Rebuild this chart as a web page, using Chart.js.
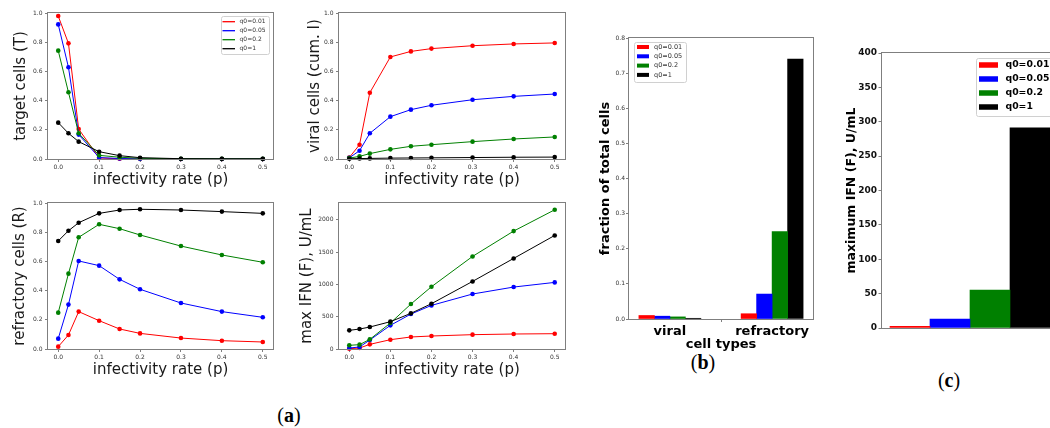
<!DOCTYPE html>
<html><head><meta charset="utf-8">
<script src="https://cdn.jsdelivr.net/npm/chart.js@4.4.0/dist/chart.umd.min.js"></script>
<style>
html,body{margin:0;padding:0;background:#fff;width:1050px;height:428px;overflow:hidden;position:relative}
canvas{position:absolute}
.lbl{position:absolute;font-family:'Liberation Serif','DejaVu Serif',serif;font-size:20px;color:#000;transform:translate(-50%,-50%);white-space:nowrap}
</style></head><body>
<div class="lbl" style="left:289px;top:415px">(<b>a</b>)</div>
<div class="lbl" style="left:703px;top:362px">(<b>b</b>)</div>
<div class="lbl" style="left:949px;top:380px">(<b>c</b>)</div>
<script>
// ---------- data ----------
const pValues = [0, 0.025, 0.05, 0.1, 0.15, 0.2, 0.3, 0.4, 0.5];
const pTicks = [0, 0.1, 0.2, 0.3, 0.4, 0.5];
const q0Labels = ['q0=0.01', 'q0=0.05', 'q0=0.2', 'q0=1'];
const q0Colors = ['#ff0000', '#0000ff', '#008000', '#000000'];

// target cells (T)
const target_q001 = [0.979, 0.792, 0.205, 0.007, 0.002, 0.001, 0.000, 0.000, 0.000];
const target_q005 = [0.922, 0.628, 0.167, 0.010, 0.003, 0.001, 0.000, 0.000, 0.000];
const target_q02  = [0.742, 0.457, 0.176, 0.025, 0.012, 0.005, 0.002, 0.001, 0.001];
const target_q1   = [0.249, 0.176, 0.119, 0.050, 0.023, 0.009, 0.002, 0.001, 0.001];

// viral cells (cum. I)
const viral_q001 = [0.010, 0.098, 0.454, 0.699, 0.737, 0.756, 0.776, 0.788, 0.795];
const viral_q005 = [0.008, 0.057, 0.176, 0.290, 0.338, 0.368, 0.406, 0.429, 0.445];
const viral_q02  = [0.006, 0.018, 0.037, 0.066, 0.087, 0.098, 0.119, 0.137, 0.151];
const viral_q1   = [0.002, 0.003, 0.004, 0.006, 0.007, 0.008, 0.010, 0.012, 0.013];

// refractory cells (R)
const refr_q001 = [0.016, 0.096, 0.256, 0.194, 0.137, 0.107, 0.075, 0.057, 0.048];
const refr_q005 = [0.071, 0.304, 0.603, 0.571, 0.477, 0.409, 0.315, 0.256, 0.217];
const refr_q02  = [0.249, 0.516, 0.765, 0.854, 0.824, 0.781, 0.705, 0.644, 0.594];
const refr_q1   = [0.740, 0.810, 0.865, 0.929, 0.952, 0.957, 0.952, 0.941, 0.929];

// max IFN (F), U/mL
const ifn_q001 = [5, 15, 72, 144, 186, 201, 222, 232, 237];
const ifn_q005 = [15, 31, 139, 366, 541, 675, 851, 959, 1031];
const ifn_q02  = [57, 67, 149, 402, 696, 964, 1433, 1825, 2155];
const ifn_q1   = [289, 309, 340, 423, 552, 701, 1046, 1402, 1758];

// (b) fraction of total cells
const cellTypes = ['viral', 'refractory'];
const frac_q001 = [0.010, 0.015];
const frac_q005 = [0.008, 0.071];
const frac_q02  = [0.006, 0.249];
const frac_q1   = [0.002, 0.740];

// (c) maximum IFN
const maxIFN = [2.5, 13, 55, 291];

// tick labels
const fracTicks = [0, 0.2, 0.4, 0.6, 0.8, 1.0];
const ifnTicks = [0, 500, 1000, 1500, 2000];
const barFracTicks = [0, 0.1, 0.2, 0.3, 0.4, 0.5, 0.6, 0.7, 0.8];
const barIfnTicks = [0, 50, 100, 150, 200, 250, 300, 350, 400];

// ---------- helpers ----------
Chart.defaults.font.family = "'DejaVu Sans', sans-serif";
const AXIS = '#7f7f7f';

const framePlugin = {
  id: 'frame',
  afterDatasetsDraw(chart) {
    const {ctx, chartArea: a} = chart;
    ctx.save();
    ctx.strokeStyle = AXIS; ctx.lineWidth = 1;
    const l = Math.round(a.left) - 0.5, t = Math.round(a.top) - 0.5;
    const r = Math.round(a.right) + 0.5, b = Math.round(a.bottom) + 0.5;
    ctx.strokeRect(l, t, r - l, b - t);
    ctx.restore();
  }
};

const legendPlugin = {
  id: 'boxLegend',
  afterDraw(chart, args, o) {
    if (!o || !o.show) return;
    const ctx = chart.ctx;
    ctx.save();
    ctx.beginPath();
    if (ctx.roundRect) ctx.roundRect(o.x + 0.5, o.y + 0.5, o.w, o.h, o.r || 2);
    else ctx.rect(o.x + 0.5, o.y + 0.5, o.w, o.h);
    ctx.fillStyle = 'rgba(255,255,255,0.85)';
    ctx.fill();
    ctx.strokeStyle = '#d0d0d0'; ctx.lineWidth = 1; ctx.stroke();
    chart.data.datasets.forEach((ds, i) => {
      const cy = o.rowY + i * o.rowH;
      if (o.kind === 'line') {
        ctx.strokeStyle = ds.borderColor; ctx.lineWidth = 1.3;
        ctx.beginPath(); ctx.moveTo(o.sx, cy); ctx.lineTo(o.sx + o.sw, cy); ctx.stroke();
      } else {
        ctx.fillStyle = ds.backgroundColor;
        ctx.fillRect(o.sx, cy - o.sh / 2, o.sw, o.sh);
      }
      ctx.fillStyle = o.color; ctx.font = o.font;
      ctx.textBaseline = 'middle'; ctx.textAlign = 'left';
      ctx.fillText(ds.label, o.tx, cy);
    });
    ctx.restore();
  }
};

function makeCanvas(left, top, w, h) {
  const c = document.createElement('canvas');
  c.width = w; c.height = h;
  c.style.left = left + 'px'; c.style.top = top + 'px';
  c.style.width = w + 'px'; c.style.height = h + 'px';
  document.body.appendChild(c);
  return c;
}

function lineDatasets(series) {
  return series.map((arr, i) => ({
    label: q0Labels[i],
    data: pValues.map((p, j) => ({x: p, y: arr[j]})),
    borderColor: q0Colors[i], backgroundColor: q0Colors[i],
    pointBackgroundColor: q0Colors[i], pointBorderWidth: 0,
    pointRadius: 2.3, borderWidth: 1, tension: 0, clip: false,
    order: 4 - i
  }));
}

function linePanel(left, top, yAxisW, series, yMax, yTicks, yFmt, yTitle, yTitleOffset, legend) {
  const c = makeCanvas(left, top, (left === 0 ? 283 : 285), 190);
  return new Chart(c, {
    type: 'line',
    data: {datasets: lineDatasets(series)},
    plugins: [framePlugin, legendPlugin],
    options: {
      responsive: false, animation: false, devicePixelRatio: 1,
      layout: {padding: {top: 13, right: 10, left: 0, bottom: 0}},
      plugins: {legend: {display: false}, tooltip: {enabled: false}, boxLegend: legend || {show: false}},
      scales: {
        x: {
          type: 'linear', min: -0.025, max: 0.525,
          afterBuildTicks: s => { s.ticks = pTicks.map(v => ({value: v})); },
          afterFit: s => { s.height = 31; },
          ticks: {font: {size: 6}, color: '#333', padding: 1.5, autoSkip: false, maxRotation: 0,
                  callback: v => Number(v).toFixed(1)},
          grid: {display: true, drawOnChartArea: false, drawTicks: true, tickLength: 3, color: AXIS},
          border: {display: false},
          title: {display: true, text: 'infectivity rate (p)', font: {size: 15, lineHeight: 1},
                  color: '#1a1a1a', padding: {top: 0, bottom: 2.5}}
        },
        y: {
          min: 0, max: yMax,
          afterBuildTicks: s => { s.ticks = yTicks.map(v => ({value: v})); },
          afterFit: s => { s.width = yAxisW; },
          ticks: {font: {size: 6}, color: '#333', padding: 2.5, autoSkip: false, callback: yFmt},
          grid: {display: true, drawOnChartArea: false, drawTicks: true, tickLength: 3, color: AXIS},
          border: {display: false},
          title: {display: true, text: yTitle, font: {size: 15, lineHeight: 1},
                  color: '#1a1a1a', padding: {top: yTitleOffset - 7.5, bottom: 0}}
        }
      }
    }
  });
}

const fmt1 = v => Number(v).toFixed(1);
const fmt0 = v => String(Math.round(v));

// (a) top-left: target cells
linePanel(0, 0, 48, [target_q001, target_q005, target_q02, target_q1], 1.0, fracTicks, fmt1,
  'target cells (T)', 21,
  {show: true, kind: 'line', x: 221, y: 16, w: 48, h: 38, r: 2,
   rowY: 21.7, rowH: 9, sx: 222.5, sw: 12.5, tx: 239.5,
   font: "6px 'DejaVu Sans'", color: '#333'});
// (a) top-middle: viral cells
linePanel(290, 0, 49, [viral_q001, viral_q005, viral_q02, viral_q1], 1.0, fracTicks, fmt1,
  'viral cells (cum. I)', 25, null);
// (a) bottom-left: refractory
linePanel(0, 190, 48, [refr_q001, refr_q005, refr_q02, refr_q1], 1.0, fracTicks, fmt1,
  'refractory cells (R)', 20, null);
// (a) bottom-middle: max IFN
linePanel(290, 190, 49, [ifn_q001, ifn_q005, ifn_q02, ifn_q1], 2260, ifnTicks, fmt0,
  'max IFN (F), U/mL', 17, null);

// (b) fraction of total cells
(function () {
  const series = [frac_q001, frac_q005, frac_q02, frac_q1];
  const c = makeCanvas(590, 30, 233, 325);
  new Chart(c, {
    type: 'bar',
    data: {datasets: series.map((arr, i) => ({
      label: q0Labels[i],
      data: cellTypes.map((t, j) => ({x: j, y: arr[j]})),
      backgroundColor: q0Colors[i], borderWidth: 0, barThickness: 15.5
    }))},
    plugins: [framePlugin, legendPlugin],
    options: {
      responsive: false, animation: false, devicePixelRatio: 1,
      layout: {padding: {top: 8, right: 10, left: 0, bottom: 0}},
      plugins: {legend: {display: false}, tooltip: {enabled: false},
        boxLegend: {show: true, kind: 'box', x: 44, y: 12, w: 52, h: 40, r: 2,
          rowY: 17, rowH: 9.3, sx: 47, sw: 12, sh: 4, tx: 64,
          font: "6.5px 'DejaVu Sans'", color: '#333'}},
      scales: {
        x: {
          type: 'linear', min: -0.4, max: 1.4, offset: false,
          afterBuildTicks: s => { s.ticks = cellTypes.map((t, j) => ({value: j})); },
          afterFit: s => { s.height = 36; },
          ticks: {font: {size: 13, weight: 'bold'}, color: '#000', padding: 1.5, autoSkip: false, maxRotation: 0,
                  callback: v => cellTypes[Math.round(v)]},
          grid: {display: true, drawOnChartArea: false, drawTicks: true, tickLength: 3, color: AXIS},
          border: {display: false},
          title: {display: true, text: 'cell types', font: {size: 13, weight: 'bold', lineHeight: 1},
                  color: '#000', padding: {top: 0, bottom: 3.5}}
        },
        y: {
          min: 0, max: 0.8,
          afterBuildTicks: s => { s.ticks = barFracTicks.map(v => ({value: v})); },
          afterFit: s => { s.width = 39; },
          ticks: {font: {size: 6}, color: '#333', padding: 1, autoSkip: false, callback: fmt1},
          grid: {display: true, drawOnChartArea: false, drawTicks: true, tickLength: 3, color: AXIS},
          border: {display: false},
          title: {display: true, text: 'fraction of total cells', font: {size: 13, weight: 'bold', lineHeight: 1},
                  color: '#000', padding: {top: 9.5, bottom: 0}}
        }
      }
    }
  });
})();

// (c) maximum IFN
(function () {
  const c = makeCanvas(830, 30, 240, 310);
  new Chart(c, {
    type: 'bar',
    data: {datasets: maxIFN.map((v, i) => ({
      label: q0Labels[i],
      data: [{x: i, y: v}],
      backgroundColor: q0Colors[i], borderWidth: 0, barThickness: 40
    }))},
    plugins: [framePlugin, legendPlugin],
    options: {
      responsive: false, animation: false, devicePixelRatio: 1,
      layout: {padding: {top: 23, right: 12, left: 0, bottom: 12}},
      plugins: {legend: {display: false}, tooltip: {enabled: false},
        boxLegend: {show: true, kind: 'box', x: 146, y: 28, w: 84, h: 58, r: 2,
          rowY: 35, rowH: 14, sx: 149, sw: 19, sh: 5.5, tx: 175.5,
          font: "bold 9.3px 'DejaVu Sans'", color: '#000'}},
      scales: {
        x: {type: 'linear', min: -0.7, max: 3.7, offset: false, stacked: true, display: false},
        y: {
          min: 0, max: 400, stacked: true,
          afterBuildTicks: s => { s.ticks = barIfnTicks.map(v => ({value: v})); },
          afterFit: s => { s.width = 52; },
          ticks: {font: {size: 9, weight: 'bold'}, color: '#111', padding: 1.5, autoSkip: false, callback: fmt0},
          grid: {display: true, drawOnChartArea: false, drawTicks: true, tickLength: 3.5, color: AXIS},
          border: {display: false},
          title: {display: true, text: 'maximum IFN (F), U/mL', font: {size: 12.5, weight: 'bold', lineHeight: 1},
                  color: '#000', padding: {top: 15.75, bottom: 0}}
        }
      }
    }
  });
})();
</script>
</body></html>
